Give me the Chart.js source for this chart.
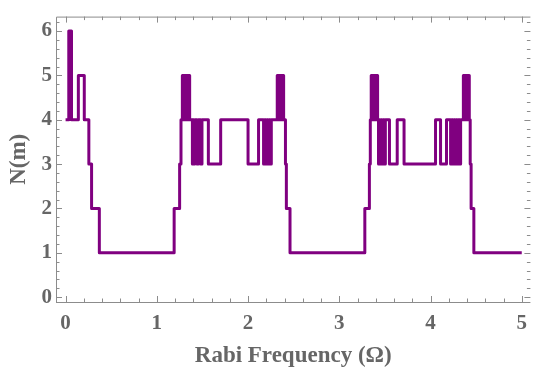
<!DOCTYPE html>
<html>
<head>
<meta charset="utf-8">
<script src="https://cdn.jsdelivr.net/npm/chart.js@4.4.1/dist/chart.umd.min.js"></script>
<style>
  html, body { margin: 0; padding: 0; background: #fff; }
</style>
</head>
<body>
<canvas id="nChart" width="536" height="374"></canvas>
<script>
// Rabi frequency where a new level starts, and the N(m) level from there on
const omega = [
  0.00, 0.035, 0.065, 0.14, 0.205, 0.255, 0.285, 0.37,
  1.19, 1.25, 1.265,
  1.28, 1.29, 1.295, 1.305, 1.31, 1.32, 1.325, 1.335, 1.34, 1.35, 1.355, 1.36,
  1.39, 1.395, 1.405, 1.415, 1.44, 1.455, 1.48, 1.495, 1.565, 1.70,
  2.00, 2.115, 2.17, 2.18, 2.195, 2.205, 2.22, 2.23, 2.245, 2.255,
  2.32, 2.33, 2.335, 2.345, 2.35, 2.36, 2.365, 2.375, 2.38, 2.39,
  2.41, 2.42, 2.46,
  3.28, 3.33, 3.34,
  3.35, 3.36, 3.365, 3.375, 3.38, 3.39, 3.395, 3.405, 3.41, 3.42,
  3.43, 3.44, 3.45, 3.46, 3.47, 3.48, 3.495, 3.505, 3.55, 3.635, 3.71,
  4.055, 4.11, 4.175,
  4.22, 4.23, 4.245, 4.255, 4.27, 4.28, 4.295, 4.305, 4.32, 4.33,
  4.36, 4.37, 4.375, 4.385, 4.39, 4.40, 4.405, 4.415, 4.42, 4.425,
  4.435, 4.445, 4.475, 5.00
];
const nm = [
  4, 6, 4, 5, 4, 3, 2, 1,
  2, 3, 4,
  5, 4, 5, 4, 5, 4, 5, 4, 5, 4, 5, 4,
  3, 4, 3, 4, 3, 4, 3, 4, 3, 4,
  3, 4, 3, 4, 3, 4, 3, 4, 3, 4,
  5, 4, 5, 4, 5, 4, 5, 4, 5, 4,
  3, 2, 1,
  2, 3, 4,
  5, 4, 5, 4, 5, 4, 5, 4, 5, 4,
  3, 4, 3, 4, 3, 4, 3, 4, 3, 4, 3,
  4, 3, 4,
  3, 4, 3, 4, 3, 4, 3, 4, 3, 4,
  5, 4, 5, 4, 5, 4, 5, 4, 5, 4,
  3, 2, 1, 1
];
const xTicks = [0, 1, 2, 3, 4, 5];
const yTicks = [0, 1, 2, 3, 4, 5, 6];

const labelFont = { family: "'Liberation Serif', serif", size: 21, weight: "bold" };
const titleFont = { family: "'Liberation Serif', serif", size: 23, weight: "bold" };
const grey = "#666666";
const frameGrey = "#8c8c8c";

// Mathematica style frame: lines on left/top/bottom, inward ticks on all sides
const frameTicks = {
  id: "frameTicks",
  afterDatasetsDraw(chart) {
    const { ctx, chartArea: a, scales } = chart;
    const x = scales.x, y = scales.y;
    ctx.save();
    ctx.strokeStyle = frameGrey;
    ctx.lineWidth = 1;
    ctx.beginPath();
    ctx.moveTo(a.left + 0.5, a.bottom + 0.5);
    ctx.lineTo(a.left + 0.5, a.top + 0.5);
    ctx.lineTo(a.right, a.top + 0.5);
    ctx.moveTo(a.left, a.bottom + 0.5);
    ctx.lineTo(a.right, a.bottom + 0.5);
    ctx.stroke();

    ctx.beginPath();
    for (let v = 0; v <= 5.01; v += 0.2) {
      const major = Math.abs(v - Math.round(v)) < 1e-6;
      const len = major ? 6 : 3.5;
      const px = Math.round(x.getPixelForValue(v)) + 0.5;
      ctx.moveTo(px, a.bottom);
      ctx.lineTo(px, a.bottom - len);
      ctx.moveTo(px, a.top);
      ctx.lineTo(px, a.top + len);
    }
    for (let v = 0; v <= 6.21; v += 0.2) {
      const major = Math.abs(v - Math.round(v)) < 1e-6;
      const len = major ? 6 : 3.5;
      const py = Math.round(y.getPixelForValue(v)) + 0.5;
      ctx.moveTo(a.left, py);
      ctx.lineTo(a.left + len, py);
      ctx.moveTo(a.right, py);
      ctx.lineTo(a.right - len, py);
    }
    ctx.stroke();
    ctx.restore();
  }
};

new Chart(document.getElementById("nChart"), {
  type: "line",
  data: {
    datasets: [
      {
        data: omega.map((w, i) => ({ x: w, y: nm[i] })),
        borderColor: "#800080",
        borderWidth: 3,
        stepped: "before", // horizontal first: level nm[i] holds from omega[i] to omega[i+1]
        borderJoinStyle: "round",
        pointRadius: 0,
        fill: false,
      },
    ],
  },
  options: {
    responsive: false,
    animation: false,
    devicePixelRatio: 1,
    layout: { padding: { top: 5, right: 0, left: 0, bottom: 0 } },
    plugins: { legend: { display: false }, tooltip: { enabled: false } },
    scales: {
      x: {
        type: "linear",
        min: -0.105,
        max: 5.095,
        afterBuildTicks: (s) => { s.ticks = xTicks.map((v) => ({ value: v })); },
        afterFit: (s) => { s.height = 72; },
        grid: { display: false, drawTicks: false },
        border: { display: false },
        ticks: { padding: 9, font: labelFont, color: grey, maxRotation: 0, autoSkip: false },
        title: {
          display: true,
          text: "Rabi Frequency (Ω)",
          font: titleFont,
          color: grey,
          padding: { top: 0, bottom: 4 },
        },
      },
      y: {
        type: "linear",
        min: -0.108,
        max: 6.325,
        afterBuildTicks: (s) => { s.ticks = yTicks.map((v) => ({ value: v })); },
        afterFit: (s) => { s.width = 56; },
        grid: { display: false, drawTicks: false },
        border: { display: false },
        ticks: { padding: 4, font: labelFont, color: grey, autoSkip: false },
        title: {
          display: true,
          text: "N(m)",
          font: titleFont,
          color: grey,
          padding: { top: 5, bottom: 0 },
        },
      },
    },
  },
  plugins: [frameTicks],
});
</script>
</body>
</html>
